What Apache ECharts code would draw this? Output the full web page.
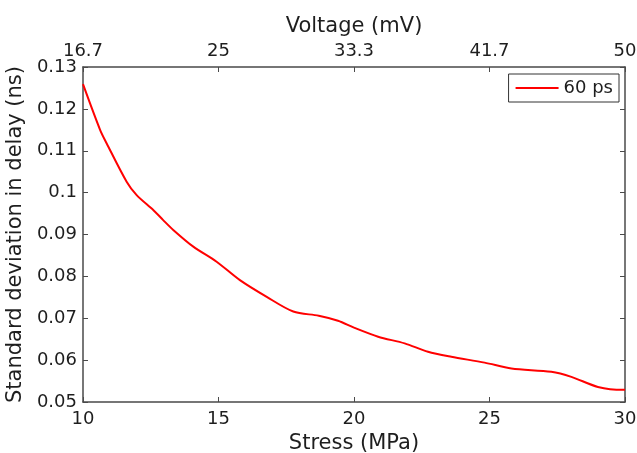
<!DOCTYPE html>
<html>
<head>
<meta charset="utf-8">
<script src="https://cdn.jsdelivr.net/npm/echarts@6/dist/echarts.min.js"></script>
<style>
  html, body { margin: 0; padding: 0; background: #fff; }
  #chart { width: 637px; height: 453px; }
</style>
</head>
<body>
<div id="chart"></div>
<script>
// stress (MPa) vs std deviation in delay (ns)
const stress = [10, 10.63, 10.87, 11.61, 11.98, 12.6, 12.95, 13.33, 14.07, 14.93, 15.79, 16.78, 17.76, 18.7,
  19.41, 20.02, 20.89, 21.87, 22.73, 23.59, 24.82, 25.81, 27.28, 28.02, 29.0, 29.93, 30];
const delayStd = [0.1259, 0.115, 0.1118, 0.1026, 0.0994, 0.0958, 0.0935, 0.0911, 0.0871, 0.0835, 0.0791, 0.0751, 0.0716, 0.0706,
  0.0694, 0.0677, 0.0656, 0.0640, 0.0620, 0.0608, 0.0594, 0.0580, 0.0572, 0.0560, 0.0536, 0.0529, 0.0529];
const voltageTicks = ['16.7', '25', '33.3', '41.7', '50'];

const font = 'DejaVu Sans';
const axisColor = '#4a4a4a';
const textColor = '#1e1e1e';

const chart = echarts.init(document.getElementById('chart'));

const baseAxis = {
  axisLine: { show: true, lineStyle: { color: axisColor, width: 1.5 } },
  axisTick: { show: true, inside: true, length: 5, lineStyle: { color: axisColor } },
  splitLine: { show: false },
  axisLabel: { color: textColor, fontFamily: font, fontSize: 18 },
  nameTextStyle: { color: textColor, fontFamily: font, fontSize: 21 }
};

chart.setOption({
  animation: false,
  backgroundColor: '#fff',
  grid: { left: 83, right: 12, top: 67, bottom: 51, containLabel: false, outerBoundsMode: 'none' },
  legend: {
    right: 18, top: 74,
    data: ['60 ps'],
    icon: 'rect', itemWidth: 43, itemHeight: 2, itemGap: 5,
    borderColor: '#333', borderWidth: 1, borderRadius: 0,
    padding: [5, 6, 5, 7],
    textStyle: { color: textColor, fontFamily: font, fontSize: 18 }
  },
  xAxis: [
    Object.assign({}, baseAxis, {
      type: 'value', position: 'bottom', min: 10, max: 30, interval: 5,
      name: 'Stress (MPa)', nameLocation: 'middle', nameGap: 26,
      axisLabel: Object.assign({}, baseAxis.axisLabel, { margin: 8 })
    }),
    Object.assign({}, baseAxis, {
      type: 'value', position: 'top', min: 10, max: 30, interval: 5,
      name: 'Voltage (mV)', nameLocation: 'middle', nameGap: 30,
      axisLabel: Object.assign({}, baseAxis.axisLabel, {
        margin: 7,
        formatter: v => voltageTicks[Math.round((v - 10) / 5)]
      })
    })
  ],
  yAxis: [
    Object.assign({}, baseAxis, {
      type: 'value', position: 'left', min: 0.05, max: 0.13, interval: 0.01,
      name: 'Standard deviation in delay (ns)', nameLocation: 'middle', nameGap: 51,
      axisLabel: Object.assign({}, baseAxis.axisLabel, {
        margin: 6,
        formatter: v => String(+v.toFixed(2))
      })
    }),
    Object.assign({}, baseAxis, {
      type: 'value', position: 'right', min: 0.05, max: 0.13, interval: 0.01,
      axisLabel: { show: false }
    })
  ],
  series: [{
    name: '60 ps',
    type: 'line',
    xAxisIndex: 0, yAxisIndex: 0,
    data: stress.map((s, i) => [s, delayStd[i]]),
    smooth: 0.3,
    showSymbol: false,
    lineStyle: { color: '#ff0000', width: 2 },
    itemStyle: { color: '#ff0000' }
  }]
});
</script>
</body>
</html>
